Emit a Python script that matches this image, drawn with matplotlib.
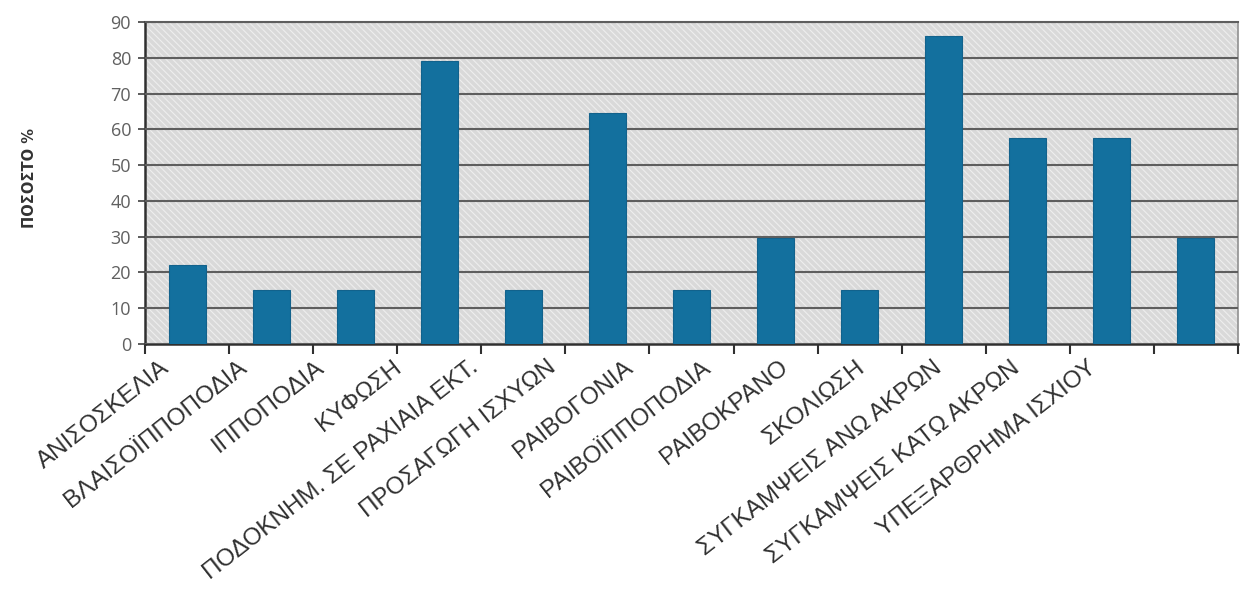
import matplotlib
matplotlib.use("Agg")
import matplotlib.pyplot as plt
import matplotlib.transforms as mtransforms
from matplotlib.patches import Rectangle
import numpy as np

categories = ["ΑΝΙΣΟΣΚΕΛΙΑ", "ΒΛΑΙΣΟΪΠΠΟΠΟΔΙΑ", "ΙΠΠΟΠΟΔΙΑ", "ΚΥΦΩΣΗ",
              "ΠΟΔΟΚΝΗΜ. ΣΕ ΡΑΧΙΑΙΑ ΕΚΤ.", "ΠΡΟΣΑΓΩΓΗ ΙΣΧΥΩΝ", "ΡΑΙΒΟΓΟΝΙΑ",
              "ΡΑΙΒΟΪΠΠΟΠΟΔΙΑ", "ΡΑΙΒΟΚΡΑΝΟ", "ΣΚΟΛΙΩΣΗ",
              "ΣΥΓΚΑΜΨΕΙΣ ΑΝΩ ΑΚΡΩΝ", "ΣΥΓΚΑΜΨΕΙΣ ΚΑΤΩ ΑΚΡΩΝ", "ΥΠΕΞΑΡΘΡΗΜΑ ΙΣΧΙΟΥ"]
values = [22, 15, 15, 79, 15, 64.5, 15, 29.5, 15, 86, 57.5, 57.5, 29.5]
yticks = [0, 10, 20, 30, 40, 50, 60, 70, 80, 90]
ylabel = "ΠΟΣΟΣΤΟ %"

plt.rcParams['font.family'] = ['Liberation Sans', 'DejaVu Sans']
plt.rcParams['hatch.linewidth'] = 0.8

fig = plt.figure(figsize=(12.46, 6.01), dpi=100)
ax = fig.add_axes([145/1246, 1-344/601, (1238-145)/1246, (344-22)/601])

ax.set_facecolor('#d9d9d9')
bg = Rectangle((0, 0), 1, 1, transform=ax.transAxes, facecolor='#d9d9d9',
               edgecolor='#eeeeee', hatch='\\\\\\\\\\', linewidth=0, zorder=0)
ax.add_patch(bg)

x = np.arange(len(categories))
ax.bar(x, values, width=0.44, color='#13709e', edgecolor='#12628c',
       linewidth=0.8, zorder=3)

ax.set_xlim(-0.5, len(categories) - 0.5)
ax.set_ylim(0, 90)
ax.set_yticks(yticks)
ax.yaxis.grid(True, color='#5e5e5e', linewidth=1.5, zorder=1)
ax.set_axisbelow(False)
for gl in ax.get_ygridlines():
    gl.set_zorder(1)

ax.tick_params(axis='y', labelsize=13, labelcolor='#606060', color='#404040',
               length=5, width=1.2, pad=5)
for lab in ax.get_yticklabels():
    lab.set_family(['Open Sans', 'DejaVu Sans'])

ax.set_xticks(x)
ax.set_xticks(np.arange(len(categories) + 1) - 0.5, minor=True)
ax.tick_params(axis='x', which='major', length=0, pad=9)
ax.tick_params(axis='x', which='minor', length=7, width=1.5, color='#303030')
ax.set_xticklabels(categories, rotation=38, ha='right', va='top',
                   rotation_mode='anchor', fontsize=17.5, color='#303030')
for i, lab in enumerate(ax.get_xticklabels()):
    dx = -(27 + i * 6.8) / 100.0
    lab.set_transform(lab.get_transform() +
                      mtransforms.ScaledTranslation(dx, 0, fig.dpi_scale_trans))

for side in ['left', 'bottom']:
    ax.spines[side].set_color('#303030')
    ax.spines[side].set_linewidth(1.8)
ax.spines['right'].set_color('#909090')
ax.spines['right'].set_linewidth(1.2)
ax.spines['top'].set_color('#5e5e5e')
ax.spines['top'].set_linewidth(1.5)

fig.text(30/1246, 1-178/601, ylabel, rotation=90, ha='center', va='center',
         fontsize=10.5, fontweight='bold', color='#333333',
         family=['DejaVu Sans'])

fig.savefig('out.png', dpi=100, facecolor='white')
